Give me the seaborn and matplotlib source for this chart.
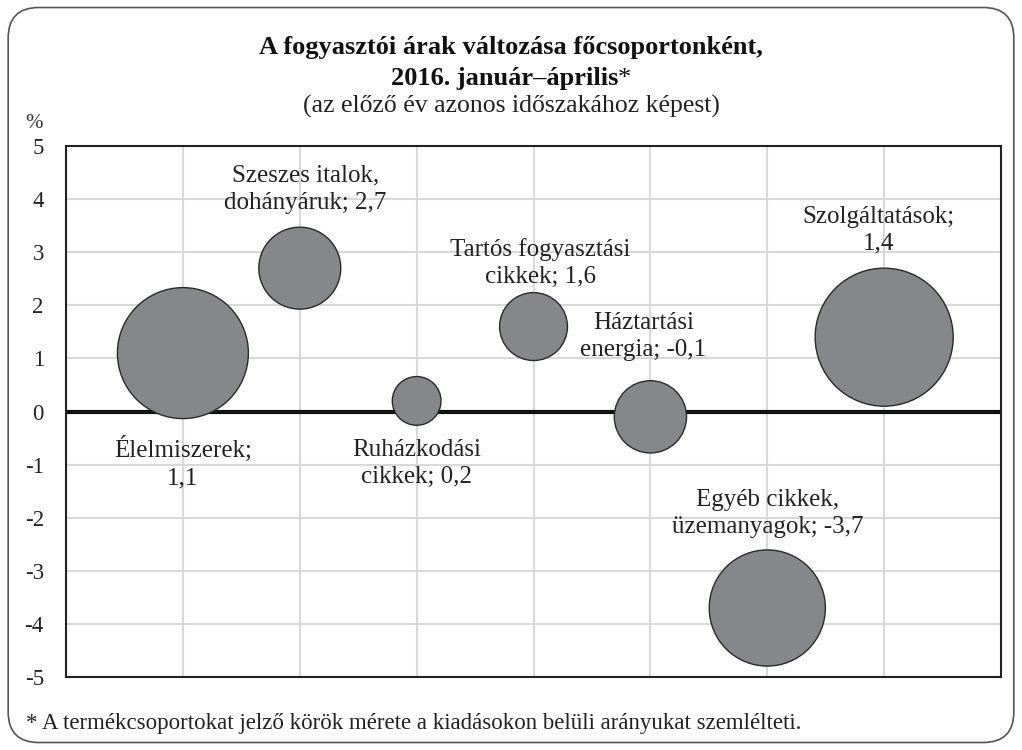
import matplotlib
matplotlib.use("Agg")
import matplotlib.pyplot as plt
import seaborn as sns
import pandas as pd
from matplotlib.patches import FancyBboxPatch

# adatok
csoportok = ['Élelmiszerek', 'Szeszes italok, dohányáruk', 'Ruházkodási cikkek',
             'Tartós fogyasztási cikkek', 'Háztartási energia',
             'Egyéb cikkek, üzemanyagok', 'Szolgáltatások']
cimkek = ['Élelmiszerek;\n1,1', 'Szeszes italok,\ndohányáruk; 2,7', 'Ruházkodási\ncikkek; 0,2',
          'Tartós fogyasztási\ncikkek; 1,6', 'Háztartási\nenergia; -0,1',
          'Egyéb cikkek,\nüzemanyagok; -3,7', 'Szolgáltatások;\n1,4']
valtozas = [1.1, 2.7, 0.2, 1.6, -0.1, -3.7, 1.4]
sulyok = [25.3, 9.9, 3.5, 6.8, 7.7, 19.9, 28.1]
y_ticks = [-5, -4, -3, -2, -1, 0, 1, 2, 3, 4, 5]

df = pd.DataFrame({'pozicio': range(1, len(csoportok) + 1), 'csoport': csoportok,
                   'valtozas': valtozas, 'suly': sulyok})

# címke eltolások (pont)
eltolas = [(0, -79), (4, 57), (0, -45), (5, 46), (-5, 58), (0, 68), (-4, 77)]

sns.set_theme(style="white")
plt.rcParams['font.family'] = ['Liberation Serif', 'DejaVu Serif']

fig = plt.figure(figsize=(10.22, 7.5), dpi=100)
ax = fig.add_axes([0.0646, 0.0973, 0.9149, 0.708])

max_s = 9876
sns.scatterplot(data=df, x='pozicio', y='valtozas', size='suly',
                sizes=(0, max_s), size_norm=(0, max(sulyok)),
                color='#86878b', edgecolor='#2a2a2a', linewidth=1.0,
                legend=False, ax=ax, zorder=3, alpha=1)

ax.set_xlim(0, 8)
ax.set_ylim(-5, 5)
ax.set_xticks(range(1, 8))
ax.set_xticklabels([])
ax.set_yticks(y_ticks)
ax.set_yticklabels([str(t) for t in y_ticks], fontsize=16.5, color='#222222')
ax.tick_params(axis='both', length=0, pad=16)
ax.grid(True, color='#d9d9d9', linewidth=1.5, zorder=0)
ax.set_axisbelow(True)
ax.axhline(0, color='#111111', linewidth=3, zorder=2)
for sp in ax.spines.values():
    sp.set_color('#222222')
    sp.set_linewidth(1.5)
ax.set_xlabel('')
ax.set_ylabel('')

for x, y, c, (dx, dy) in zip(df['pozicio'], valtozas, cimkek, eltolas):
    ax.annotate(c, xy=(x, y), xytext=(dx, dy), textcoords='offset points',
                ha='center', va='center', fontsize=18, color='#222222',
                linespacing=1.3, zorder=4)

# címek
fig.text(0.5, 0.937, 'A fogyasztói árak változása főcsoportonként,', ha='center', va='center',
         fontsize=19, fontweight='bold', color='#111111')
t2 = fig.text(0.5, 0.895, '2016. január–április', ha='center', va='center',
              fontsize=19, fontweight='bold', color='#111111')
csillag = fig.text(0.5, 0.895, '*', ha='left', va='center', fontsize=19, color='#111111')
fig.canvas.draw()
w_csillag = csillag.get_window_extent().width / fig.bbox.width
t2.set_x(0.5 - w_csillag / 2)
w_t2 = t2.get_window_extent().width / fig.bbox.width
csillag.set_x(0.5 - w_csillag / 2 + w_t2 / 2)

fig.text(0.5, 0.858, '(az előző év azonos időszakához képest)', ha='center', va='center',
         fontsize=18.5, color='#222222')
fig.text(0.033, 0.836, '%', ha='center', va='center', fontsize=15, color='#333333')
fig.text(0.025, 0.035, '* A termékcsoportokat jelző körök mérete a kiadásokon belüli arányukat szemlélteti.',
         ha='left', va='center', fontsize=16.5, color='#222222')

keret = FancyBboxPatch((0.008, 0.01), 0.984, 0.98, boxstyle='round,pad=0,rounding_size=0.03',
                       transform=fig.transFigure, fill=False, edgecolor='#555555',
                       linewidth=1.2, mutation_aspect=1.36)
fig.patches.append(keret)

fig.savefig('out.png', dpi=100)
